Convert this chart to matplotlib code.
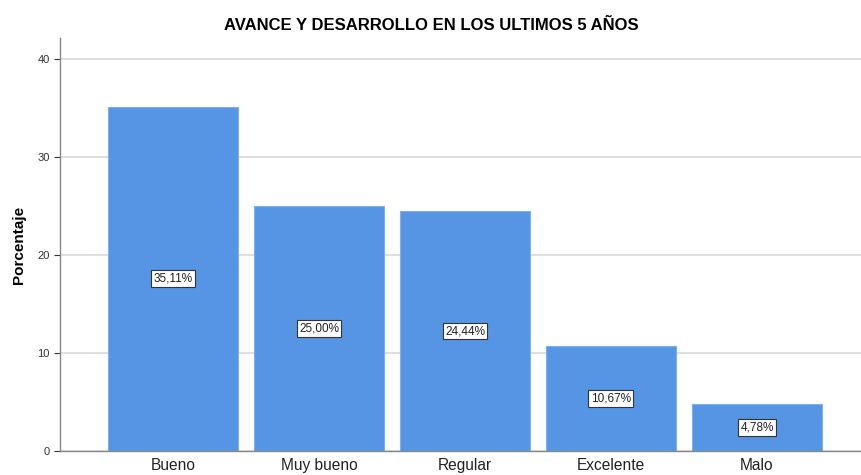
import matplotlib
matplotlib.use("Agg")
import matplotlib.pyplot as plt

# Datos del gráfico
categorias = ["Bueno", "Muy bueno", "Regular", "Excelente", "Malo"]
porcentajes = [35.11, 25.00, 24.44, 10.67, 4.78]
etiquetas = ["35,11%", "25,00%", "24,44%", "10,67%", "4,78%"]

plt.rcParams["font.family"] = ["Liberation Sans", "DejaVu Sans"]

fig = plt.figure(figsize=(8.62, 4.75), dpi=100)
ax = fig.add_axes([60 / 862, 24 / 475, 802 / 862, 413 / 475])

x = list(range(len(categorias)))
ax.bar(x, porcentajes, width=0.89, color="#5595E3", edgecolor="#7FB0EE",
       linewidth=0.8, zorder=2)

# Etiquetas en el centro de cada barra
for xi, v, t in zip(x, porcentajes, etiquetas):
    ax.text(xi, v / 2, t, ha="center", va="center", fontsize=8.5, color="#222222",
            bbox=dict(boxstyle="square,pad=0.2", facecolor="white",
                      edgecolor="#333333", linewidth=0.8), zorder=3)

ax.set_xlim(-0.774, 4.72)
ax.set_ylim(0, 42.1)
ax.set_yticks([0, 10, 20, 30, 40])
ax.set_xticks(x)
ax.set_xticklabels(categorias, fontsize=11.2, color="#222222")
ax.tick_params(axis="y", labelsize=8, colors="#333333", length=4, width=0.8)
ax.tick_params(axis="x", length=0, pad=5)
ax.yaxis.grid(True, color="#D9D9D9", linewidth=1.2, zorder=0)
ax.set_axisbelow(True)

for s in ["top", "right"]:
    ax.spines[s].set_visible(False)
for s in ["left", "bottom"]:
    ax.spines[s].set_color("#888888")
    ax.spines[s].set_linewidth(1.0)

ax.set_ylabel("Porcentaje", fontsize=11, fontweight="bold", labelpad=8)
fig.text(0.5 * (1 + 0 / 862), 1 - 25 / 475, "AVANCE Y DESARROLLO EN LOS ULTIMOS 5 AÑOS",
         ha="center", va="center", fontsize=12, fontweight="bold")

fig.savefig("out.png", dpi=100)
